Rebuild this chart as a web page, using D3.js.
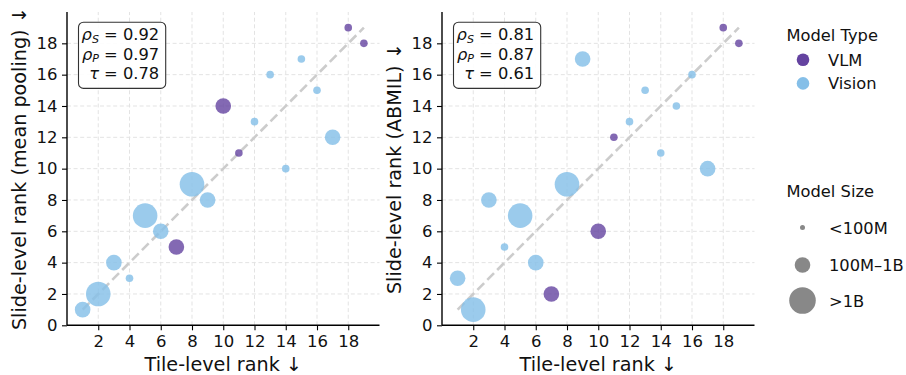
<!DOCTYPE html>
<html>
<head>
<meta charset="utf-8">
<script src="https://cdn.jsdelivr.net/npm/d3@7"></script>
<style>
  html, body { margin: 0; padding: 0; background: #fff; }
  svg { display: block; font-family: "DejaVu Sans", sans-serif; }
</style>
</head>
<body>
<svg id="chart" width="906" height="375"></svg>
<script>
// ---------------- data ----------------
const tileRank = [1, 2, 3, 4, 5, 6, 7, 8, 9, 10, 11, 12, 13, 14, 15, 16, 17, 18, 19];
const slideRankMean = [1, 2, 4, 3, 7, 6, 5, 9, 8, 14, 11, 13, 16, 10, 17, 15, 12, 19, 18];
const slideRankABMIL = [3, 1, 8, 5, 7, 4, 2, 9, 17, 6, 12, 13, 15, 11, 14, 16, 10, 19, 18];
const modelType = ["Vision", "Vision", "Vision", "Vision", "Vision", "Vision", "VLM", "Vision", "Vision", "VLM",
                   "VLM", "Vision", "Vision", "Vision", "Vision", "Vision", "Vision", "VLM", "VLM"];
const modelSize = ["100M–1B", ">1B", "100M–1B", "<100M", ">1B", "100M–1B", "100M–1B", ">1B", "100M–1B", "100M–1B",
                   "<100M", "<100M", "<100M", "<100M", "<100M", "<100M", "100M–1B", "<100M", "<100M"];
const panelNames = ["mean pooling", "ABMIL"];
const rhoS = ["0.92", "0.81"];
const rhoP = ["0.97", "0.87"];
const tau = ["0.78", "0.61"];
const xTicks = [2, 4, 6, 8, 10, 12, 14, 16, 18];
const yTicks = [0, 2, 4, 6, 8, 10, 12, 14, 16, 18];
const typeCategories = ["VLM", "Vision"];
const sizeCategories = ["<100M", "100M–1B", ">1B"];

// ---------------- styling ----------------
const color = d3.scaleOrdinal().domain(typeCategories).range(["#6443a0", "#85bfe8"]);
const radius = d3.scaleOrdinal().domain(sizeCategories).range([3.8, 7.8, 12.3]);
const legendRadius = d3.scaleOrdinal().domain(sizeCategories).range([2.5, 7.8, 13.3]);

const svg = d3.select("#chart");
const tickFont = 16.5, labelFont = 19.2, boxFont = 16.3, legendFont = 16.3;

const panels = [
  { x0: 67, ys: slideRankMean, label: "Slide-level rank (" + panelNames[0] + ")  ↓", labelX: 25.5, idx: 0 },
  { x0: 442, ys: slideRankABMIL, label: "Slide-level rank (" + panelNames[1] + ")  ↓", labelX: 400.5, idx: 1 }
];
const W = 312.5, yTop = 12, yBot = 325.3;

panels.forEach(p => {
  const x = d3.scaleLinear().domain([0, 20]).range([p.x0, p.x0 + W]);
  const y = d3.scaleLinear().domain([0, 20]).range([yBot, yTop]);
  const g = svg.append("g");

  // grid
  g.append("g").selectAll("line").data(xTicks).join("line")
    .attr("x1", d => x(d)).attr("x2", d => x(d)).attr("y1", yBot).attr("y2", yTop)
    .attr("stroke", "#e3e3e3").attr("stroke-width", 1).attr("stroke-dasharray", "4,2.6");
  g.append("g").selectAll("line").data(yTicks.filter(d => d > 0)).join("line")
    .attr("x1", p.x0).attr("x2", p.x0 + W).attr("y1", d => y(d)).attr("y2", d => y(d))
    .attr("stroke", "#e3e3e3").attr("stroke-width", 1).attr("stroke-dasharray", "4,2.6");

  // diagonal
  g.append("line")
    .attr("x1", x(1)).attr("y1", y(1)).attr("x2", x(19)).attr("y2", y(19))
    .attr("stroke", "#cccccc").attr("stroke-width", 2.6).attr("stroke-dasharray", "9.5,4.5");

  // points
  const pts = tileRank.map((t, i) => ({ t, s: p.ys[i], type: modelType[i], size: modelSize[i] }));
  g.append("g").selectAll("circle").data(pts).join("circle")
    .attr("cx", d => x(d.t)).attr("cy", d => y(d.s))
    .attr("r", d => radius(d.size))
    .attr("fill", d => color(d.type)).attr("fill-opacity", d => d.type === "VLM" ? 0.8 : 0.82);

  // axes
  const xAxis = d3.axisBottom(x).tickValues(xTicks).tickSize(5).tickPadding(4.5).tickFormat(d3.format("d"));
  const yAxis = d3.axisLeft(y).tickValues(yTicks).tickSize(5).tickPadding(4.5).tickFormat(d3.format("d"));
  const gx = g.append("g").attr("transform", `translate(0,${yBot})`).call(xAxis);
  const gy = g.append("g").attr("transform", `translate(${p.x0},0)`).call(yAxis);
  [gx, gy].forEach(a => {
    a.select(".domain").attr("stroke", "#000").attr("stroke-width", 1.4);
    a.selectAll(".tick line").attr("stroke", "#000").attr("stroke-width", 1.1);
    a.selectAll(".tick text").attr("fill", "#111").style("font-size", tickFont + "px")
      .style("font-family", "DejaVu Sans");
  });
  gx.select(".domain").attr("d", `M${p.x0},0H${p.x0 + W}`);
  gy.select(".domain").attr("d", `M0,${yBot}V${yTop}`);

  // axis labels
  g.append("text").attr("x", p.x0 + W / 2).attr("y", 370.5).attr("text-anchor", "middle")
    .style("font-size", labelFont + "px").attr("fill", "#111").text("Tile-level rank  ↓");
  g.append("text").attr("transform", `translate(${p.labelX},${(yTop + yBot) / 2}) rotate(-90)`)
    .attr("text-anchor", "middle").style("font-size", labelFont + "px").attr("fill", "#111").text(p.label);

  // stats box
  const bx = p.x0 + 11.5, by = 22.2, bw = 87.2, bh = 66.2;
  g.append("rect").attr("x", bx).attr("y", by).attr("width", bw).attr("height", bh)
    .attr("rx", 5).attr("ry", 5).attr("fill", "#fff").attr("fill-opacity", 0.9)
    .attr("stroke", "#333").attr("stroke-width", 1.1);
  const rx = bx + bw - 6.5;
  const lines = [
    { sym: "ρ", sub: "S", val: rhoS[p.idx] },
    { sym: "ρ", sub: "P", val: rhoP[p.idx] },
    { sym: "τ", sub: null, val: tau[p.idx] }
  ];
  lines.forEach((l, k) => {
    const t = g.append("text").attr("x", rx).attr("y", 40 + k * 19.7).attr("text-anchor", "end")
      .style("font-size", boxFont + "px").attr("fill", "#111");
    t.append("tspan").style("font-style", "italic").text(l.sym);
    if (l.sub) {
      t.append("tspan").style("font-style", "italic").style("font-size", (boxFont * 0.68) + "px")
        .attr("dy", 2.5).text(l.sub);
      t.append("tspan").attr("dy", -2.5).text(" = " + l.val);
    } else {
      t.append("tspan").text(" = " + l.val);
    }
  });
});

// ---------------- legend ----------------
const lg = svg.append("g").style("font-size", legendFont + "px").attr("fill", "#111");
const lx = 786.5, mx = 802.5, tx = 828;
lg.append("text").attr("x", lx).attr("y", 40.5).text("Model Type");
typeCategories.forEach((c, i) => {
  const cy = 59.8 + i * 23.6;
  lg.append("circle").attr("cx", mx + 0.5).attr("cy", cy).attr("r", 6.3).attr("fill", color(c));
  lg.append("text").attr("x", tx).attr("y", cy + 6).text(c);
});
lg.append("text").attr("x", lx).attr("y", 196.5).text("Model Size");
const sizeY = [227.5, 265, 300.5];
sizeCategories.forEach((c, i) => {
  lg.append("circle").attr("cx", mx).attr("cy", sizeY[i]).attr("r", legendRadius(c)).attr("fill", "#888888");
  lg.append("text").attr("x", tx + 1).attr("y", sizeY[i] + 6).text(c);
});
</script>
</body>
</html>
